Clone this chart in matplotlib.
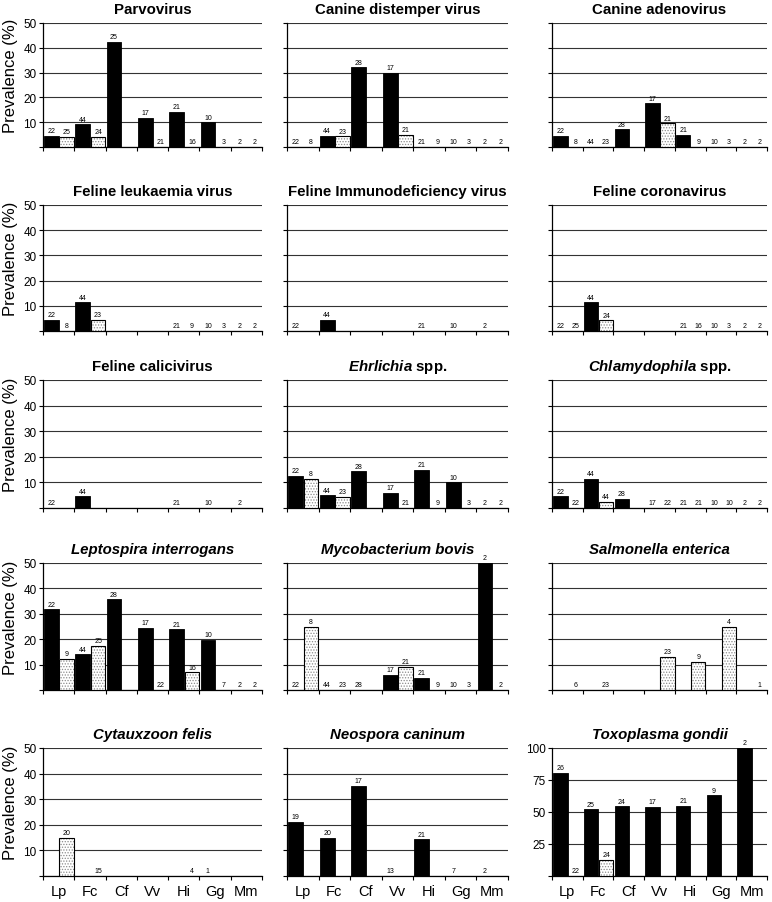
import matplotlib
matplotlib.use('Agg')
import matplotlib.pyplot as plt
import numpy as np

plt.rcParams['font.family'] = ['Liberation Sans', 'DejaVu Sans']
plt.rcParams['mathtext.fontset'] = 'custom'
plt.rcParams['mathtext.rm'] = 'Liberation Sans'
plt.rcParams['mathtext.it'] = 'Liberation Sans:italic'
plt.rcParams['mathtext.bf'] = 'Liberation Sans:bold'
plt.rcParams['mathtext.bfit'] = 'Liberation Sans:italic:bold'
plt.rcParams['hatch.linewidth'] = 0.6

hosts = ['Lp', 'Fc', 'Cf', 'Vv', 'Hi', 'Gg', 'Mm']
N = None

# ---- data: prevalence (%) and sample sizes; solid = black bars, dotted = stippled bars ----
parvo_solid = [4.5, 9.1, 42.5, 11.8, 14.3, 10.0, 0]
parvo_solid_n = [22, 44, 25, 17, 21, 10, 2]
parvo_dotted = [4.0, 4.2, N, 0, 0, 0, 0]
parvo_dotted_n = [25, 24, N, 21, 16, 3, 2]

cdv_solid = [0, 4.5, 32.1, 30.0, 0, 0, 0]
cdv_solid_n = [22, 44, 28, 17, 21, 10, 2]
cdv_dotted = [0, 4.3, N, 4.8, 0, 0, 0]
cdv_dotted_n = [8, 23, N, 21, 9, 3, 2]

cav_solid = [4.5, 0, 7.1, 17.6, 4.8, 0, 0]
cav_solid_n = [22, 44, 28, 17, 21, 10, 2]
cav_dotted = [0, 0, N, 9.5, 0, 0, 0]
cav_dotted_n = [8, 23, N, 21, 9, 3, 2]

felv_solid = [4.5, 11.4, N, N, 0, 0, 0]
felv_solid_n = [22, 44, N, N, 21, 10, 2]
felv_dotted = [0, 4.3, N, N, 0, 0, 0]
felv_dotted_n = [8, 23, N, N, 9, 3, 2]

fiv_solid = [0, 4.5, N, N, 0, 0, 0]
fiv_solid_n = [22, 44, N, N, 21, 10, 2]
fiv_dotted = [N, N, N, N, N, N, N]
fiv_dotted_n = [N, N, N, N, N, N, N]

fcov_solid = [0, 11.4, N, N, 0, 0, 0]
fcov_solid_n = [22, 44, N, N, 21, 10, 2]
fcov_dotted = [0, 4.2, N, N, 0, 0, 0]
fcov_dotted_n = [25, 24, N, N, 16, 3, 2]

fcv_solid = [0, 4.5, N, N, 0, 0, 0]
fcv_solid_n = [22, 44, N, N, 21, 10, 2]
fcv_dotted = [N, N, N, N, N, N, N]
fcv_dotted_n = [N, N, N, N, N, N, N]

ehr_solid = [12.5, 5.0, 14.3, 6.0, 14.8, 10.0, 0]
ehr_solid_n = [22, 44, 28, 17, 21, 10, 2]
ehr_dotted = [11.5, 4.3, N, 0, 0, 0, 0]
ehr_dotted_n = [8, 23, N, 21, 9, 3, 2]

chl_solid = [4.5, 11.4, 3.6, 0, 0, 0, 0]
chl_solid_n = [22, 44, 28, 17, 21, 10, 2]
chl_dotted = [0, 2.3, N, 0, 0, 0, 0]
chl_dotted_n = [22, 44, N, 22, 21, 10, 2]

lep_solid = [31.8, 14.0, 35.7, 24.4, 23.9, 19.8, 0]
lep_solid_n = [22, 44, 28, 17, 21, 10, 2]
lep_dotted = [12.4, 17.4, N, 0, 6.9, 0, 0]
lep_dotted_n = [9, 25, N, 22, 16, 7, 2]

myc_solid = [0, 0, 0, 5.9, 4.8, 0, 50.0]
myc_solid_n = [22, 44, 28, 17, 21, 10, 2]
myc_dotted = [25.0, 0, N, 9.0, 0, 0, 0]
myc_dotted_n = [8, 23, N, 21, 9, 3, 2]

sal_solid = [N, N, N, N, N, N, N]
sal_solid_n = [N, N, N, N, N, N, N]
sal_dotted = [0, 0, N, 13.0, 11.1, 25.0, 0]
sal_dotted_n = [6, 23, N, 23, 9, 4, 1]

cyt_solid = [N, N, N, N, N, 0, N]
cyt_solid_n = [N, N, N, N, N, 1, N]
cyt_dotted = [15.0, 0, N, N, 0, N, N]
cyt_dotted_n = [20, 15, N, N, 4, N, N]

neo_solid = [21.1, 15.0, 35.3, 0, 14.3, 0, 0]
neo_solid_n = [19, 20, 17, 13, 21, 7, 2]
neo_dotted = [N, N, N, N, N, N, N]
neo_dotted_n = [N, N, N, N, N, N, N]

tox_solid = [80.8, 52.0, 54.5, 54.0, 55.0, 63.0, 100.0]
tox_solid_n = [26, 25, 24, 17, 21, 9, 2]
tox_dotted = [0, 12.5, N, N, N, N, N]
tox_dotted_n = [22, 24, N, N, N, N, N]

titles = ['Parvovirus', 'Canine distemper virus', 'Canine adenovirus',
          'Feline leukaemia virus', 'Feline Immunodeficiency virus', 'Feline coronavirus',
          'Feline calicivirus', r'$\mathbfit{Ehrlichia}$ spp.', r'$\mathbfit{Chlamydophila}$ spp.',
          'Leptospira interrogans', 'Mycobacterium bovis', 'Salmonella enterica',
          'Cytauxzoon felis', 'Neospora caninum', 'Toxoplasma gondii']
italic_titles = {'Leptospira interrogans', 'Mycobacterium bovis', 'Salmonella enterica',
                 'Cytauxzoon felis', 'Neospora caninum', 'Toxoplasma gondii'}

solids = [parvo_solid, cdv_solid, cav_solid, felv_solid, fiv_solid, fcov_solid,
          fcv_solid, ehr_solid, chl_solid, lep_solid, myc_solid, sal_solid,
          cyt_solid, neo_solid, tox_solid]
solids_n = [parvo_solid_n, cdv_solid_n, cav_solid_n, felv_solid_n, fiv_solid_n, fcov_solid_n,
            fcv_solid_n, ehr_solid_n, chl_solid_n, lep_solid_n, myc_solid_n, sal_solid_n,
            cyt_solid_n, neo_solid_n, tox_solid_n]
dotteds = [parvo_dotted, cdv_dotted, cav_dotted, felv_dotted, fiv_dotted, fcov_dotted,
           fcv_dotted, ehr_dotted, chl_dotted, lep_dotted, myc_dotted, sal_dotted,
           cyt_dotted, neo_dotted, tox_dotted]
dotteds_n = [parvo_dotted_n, cdv_dotted_n, cav_dotted_n, felv_dotted_n, fiv_dotted_n, fcov_dotted_n,
             fcv_dotted_n, ehr_dotted_n, chl_dotted_n, lep_dotted_n, myc_dotted_n, sal_dotted_n,
             cyt_dotted_n, neo_dotted_n, tox_dotted_n]

W, H = 772, 903
fig = plt.figure(figsize=(W / 100, H / 100), dpi=100)

cols_px = [(43, 262), (287, 508), (552, 767)]
rows_px = [(24, 148), (206, 332), (381, 509), (564, 691), (749, 877)]

bw = 0.47
for k in range(15):
    r, c = divmod(k, 3)
    x0, x1 = cols_px[c]
    yt, yb = rows_px[r]
    ax = fig.add_axes([x0 / W, 1 - yb / H, (x1 - x0) / W, (yb - yt) / H])

    is_tox = (k == 14)
    ymax = 100 if is_tox else 50
    ax.set_xlim(0, 7)
    ax.set_ylim(0, ymax)

    sv, sn, dv, dn = solids[k], solids_n[k], dotteds[k], dotteds_n[k]
    for i in range(7):
        if sv[i] is not None:
            ax.bar(i + 0.27, sv[i], width=bw, color='black', edgecolor='black',
                   linewidth=0.6, zorder=3)
            ax.annotate(str(sn[i]), (i + 0.27, sv[i]), xytext=(0, 1.2),
                        textcoords='offset points', ha='center', va='bottom',
                        fontsize=5, zorder=5, annotation_clip=False)
        if dv[i] is not None:
            if dv[i] > 0:
                ax.bar(i + 0.76, dv[i], width=bw, color='white', edgecolor='#8c8c8c',
                       hatch='......', linewidth=0, zorder=3)
                ax.bar(i + 0.76, dv[i], width=bw, fill=False, edgecolor='black',
                       linewidth=0.8, zorder=4)
            ax.annotate(str(dn[i]), (i + 0.76, dv[i]), xytext=(0, 1.2),
                        textcoords='offset points', ha='center', va='bottom',
                        fontsize=5, zorder=5, annotation_clip=False)

    # axes styling
    for s in ['top', 'right']:
        ax.spines[s].set_visible(False)
    for s in ['left', 'bottom']:
        ax.spines[s].set_linewidth(0.9)
        ax.spines[s].set_color('black')
    ax.set_axisbelow(True)
    if is_tox:
        yt_vals = [0, 25, 50, 75, 100]
    else:
        yt_vals = [0, 10, 20, 30, 40, 50]
    ax.set_yticks(yt_vals)
    ax.yaxis.grid(True, color='#333333', linewidth=0.8)
    ax.tick_params(axis='y', direction='out', length=3, width=0.8, pad=1.5, labelsize=8.5)
    if c == 0 or is_tox:
        ax.set_yticklabels([''] + [str(v) for v in yt_vals[1:]])
    else:
        ax.tick_params(axis='y', labelleft=False)

    ax.set_xticks(np.arange(8))
    ax.set_xticklabels([])
    ax.tick_params(axis='x', which='major', direction='out', length=3, width=0.8)
    ax.set_xticks(np.arange(7) + 0.5, minor=True)
    if r == 4:
        ax.set_xticklabels(hosts, minor=True)
        ax.tick_params(axis='x', which='minor', length=0, pad=6, labelsize=10.5)
    else:
        ax.tick_params(axis='x', which='minor', length=0, labelbottom=False)

    if c == 0:
        ax.set_ylabel('Prevalence (%)', fontsize=12)
        ax.yaxis.set_label_coords(-0.115, 0.58)

    t = titles[k]
    if t in italic_titles:
        ax.set_title(t, fontsize=10.8, fontweight='bold', fontstyle='italic', pad=7)
    else:
        ax.set_title(t, fontsize=10.8, fontweight='bold', pad=7)

fig.savefig('out.png', dpi=100, facecolor='white')
